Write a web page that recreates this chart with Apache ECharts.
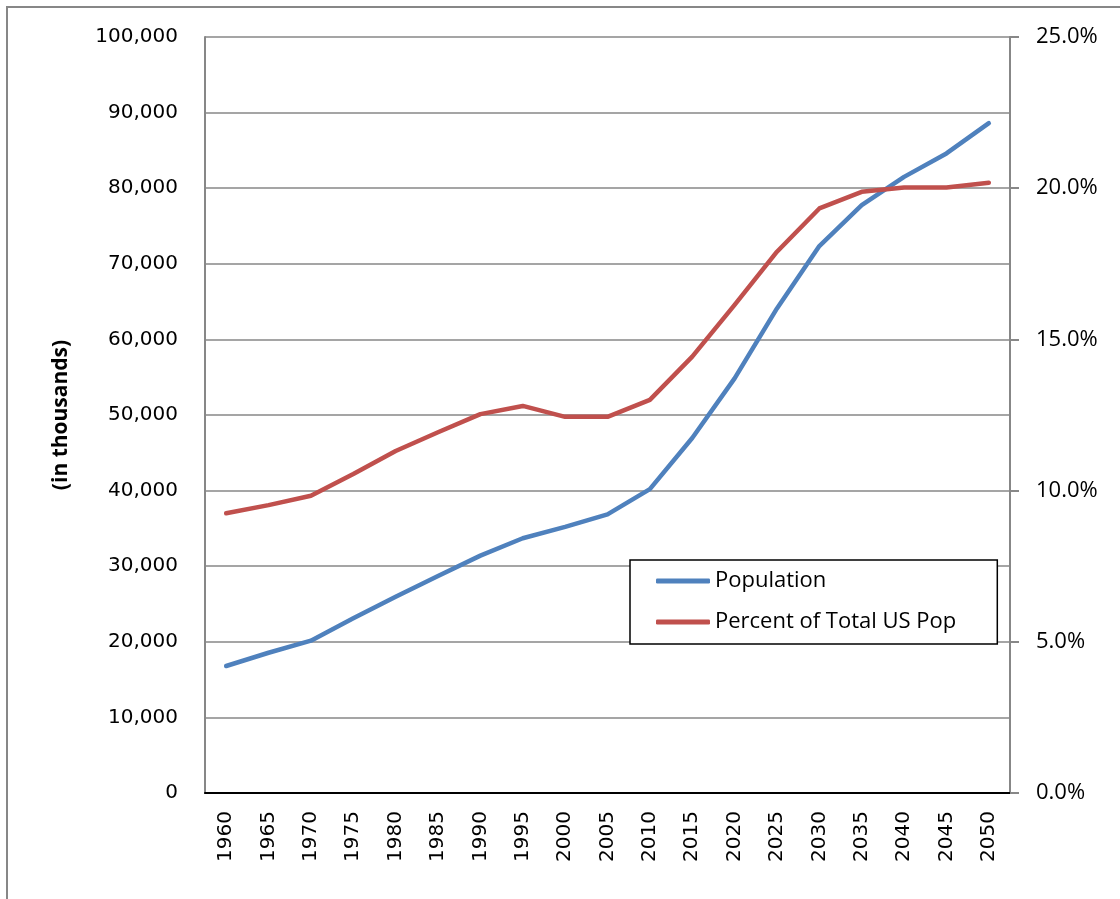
<!DOCTYPE html>
<html>
<head>
<meta charset="utf-8">
<script src="https://cdn.jsdelivr.net/npm/echarts@6/dist/echarts.min.js"></script>
<style>
  html, body { margin: 0; padding: 0; background: #fff; }
  #chart { width: 1120px; height: 899px; }
</style>
</head>
<body>
<div id="chart"></div>
<script>
// categories
const years = ['1960', '1965', '1970', '1975', '1980', '1985', '1990', '1995', '2000', '2005',
  '2010', '2015', '2020', '2025', '2030', '2035', '2040', '2045', '2050']

// population (in thousands), left axis
const population = [16800, 18550, 20150, 23100, 25950, 28700, 31400, 33700, 35200, 36850,
  40200, 46950, 54850, 64100, 72350, 77750, 81500, 84600, 88600]

// percent of total US population, right axis
const percentOfTotal = [9.25, 9.52, 9.83, 10.55, 11.31, 11.93, 12.53, 12.80, 12.44, 12.44,
  13.0, 14.43, 16.14, 17.90, 19.33, 19.88, 20.02, 20.02, 20.18]

const seriesNames = ['Population', 'Percent of Total US Pop']

const gray = '#878787'

const chart = echarts.init(document.getElementById('chart'))

const option = {
  backgroundColor: '#fff',
  animation: false,
  graphic: [
    {
      // outer chart border
      type: 'rect',
      shape: { x: 7, y: 7, width: 1200, height: 1000 },
      style: { fill: 'none', stroke: gray, lineWidth: 2 },
      silent: true
    }
  ],
  grid: {
    left: 205,
    right: 110,
    top: 37,
    bottom: 106
  },
  legend: {
    data: seriesNames,
    orient: 'vertical',
    left: 630,
    top: 560,
    backgroundColor: '#fff',
    borderColor: '#000',
    borderWidth: 1.5,
    borderRadius: 0,
    padding: [10, 41, 11, 26],
    itemGap: 19,
    itemWidth: 54,
    itemHeight: 5,
    icon: 'roundRect',
    textStyle: {
      fontFamily: 'Open Sans',
      fontSize: 22,
      color: '#000'
    }
  },
  xAxis: [
    {
      type: 'category',
      data: years,
      position: 'bottom',
      axisLine: { lineStyle: { color: gray, width: 2 } },
      axisTick: { show: false },
      axisLabel: {
        rotate: 90,
        margin: 18,
        fontFamily: 'DejaVu Sans',
        fontSize: 20,
        color: '#000'
      }
    },
    {
      // black frame line along the top of the plot
      type: 'category',
      data: years,
      position: 'top',
      axisLine: { lineStyle: { color: '#000', width: 2 } },
      axisTick: { show: false },
      axisLabel: { show: false }
    }
  ],
  yAxis: [
    {
      type: 'value',
      min: 0,
      max: 100000,
      interval: 10000,
      name: '(in thousands)',
      nameLocation: 'middle',
      nameGap: 133,
      nameRotate: 90,
      nameTextStyle: {
        fontFamily: 'Open Sans',
        fontWeight: 'bold',
        fontSize: 21,
        color: '#000'
      },
      axisLine: { show: true, lineStyle: { color: gray, width: 2 } },
      axisTick: { show: false },
      splitLine: { lineStyle: { color: gray, width: 1.5 } },
      axisLabel: {
        margin: 27,
        fontFamily: 'DejaVu Sans',
        fontSize: 20,
        color: '#000',
        formatter: v => v.toLocaleString('en-US')
      }
    },
    {
      type: 'value',
      min: 0,
      max: 25,
      interval: 5,
      position: 'right',
      axisLine: { show: true, lineStyle: { color: gray, width: 2 } },
      axisTick: { show: true, inside: false, length: 9, lineStyle: { color: gray, width: 2 } },
      splitLine: { show: false },
      axisLabel: {
        margin: 26,
        fontFamily: 'Open Sans',
        fontSize: 22,
        color: '#000',
        formatter: v => v.toFixed(1) + '%'
      }
    }
  ],
  series: [
    {
      name: seriesNames[0],
      type: 'line',
      xAxisIndex: 0,
      yAxisIndex: 0,
      data: population,
      showSymbol: false,
      symbol: 'none',
      color: '#4F81BD',
      lineStyle: { width: 4.5, cap: 'round', join: 'round' }
    },
    {
      name: seriesNames[1],
      type: 'line',
      xAxisIndex: 0,
      yAxisIndex: 1,
      data: percentOfTotal,
      showSymbol: false,
      symbol: 'none',
      color: '#C0504D',
      lineStyle: { width: 4.5, cap: 'round', join: 'round' }
    }
  ]
}

chart.setOption(option)
</script>
</body>
</html>
